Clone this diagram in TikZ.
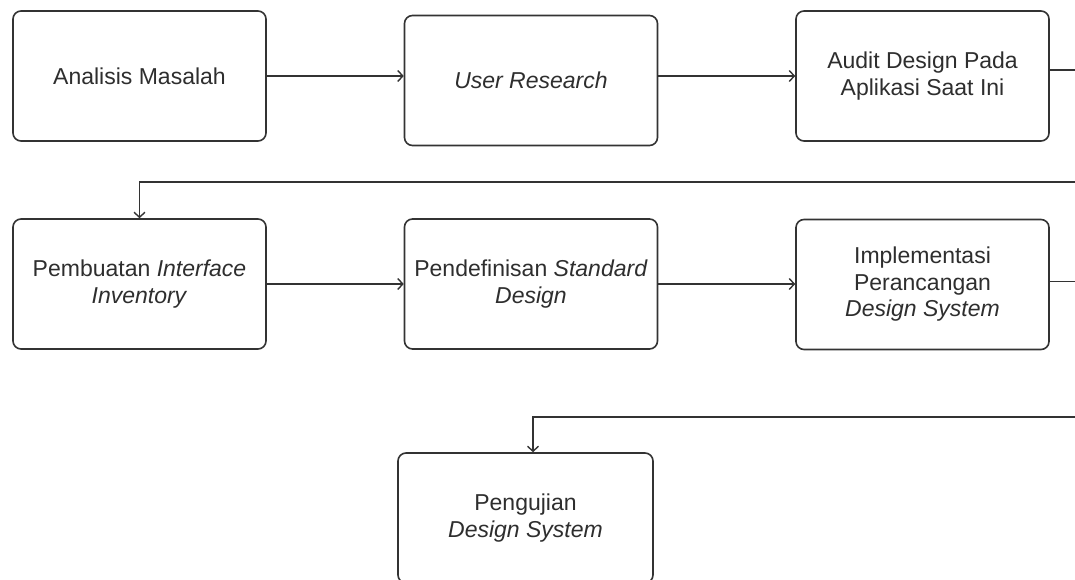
\documentclass[tikz,border=0pt]{standalone}
\usepackage{fontspec}
\setmainfont{Liberation Sans}
\usetikzlibrary{arrows.meta}
\definecolor{ink}{HTML}{333333}
\definecolor{txt}{HTML}{2E2E2E}
\begin{document}
\begin{tikzpicture}[x=1pt,y=1pt,
  stepbox/.style={draw=ink, line width=1.6pt, rounded corners=8pt, fill=white,
    minimum width=253pt, minimum height=130pt, align=center, text=txt,
    font=\fontsize{23}{26.5}\selectfont, inner sep=0pt},
  conn/.style={draw=ink, line width=1.6pt, -{Straight Barb[length=5pt,width=11pt,line width=1.4pt]}},
  plain/.style={draw=ink, line width=1.6pt}]
\useasboundingbox (0,0) rectangle (1075,-580);
\clip (0,0) rectangle (1075,-580);
\fill[white] (0,0) rectangle (1075,-580);
\node[stepbox] (b1) at (139.5,-76) {Analisis Masalah};
\node[stepbox] (b2) at (531,-80.5) {\itshape User Research};
\node[stepbox] (b3) at (922.5,-76) {Audit Design Pada\\Aplikasi Saat Ini};
\node[stepbox] (b4) at (139.5,-284) {Pembuatan \textit{Interface}\\\textit{Inventory}};
\node[stepbox] (b5) at (531,-284) {Pendefinisan \textit{Standard}\\\textit{Design}};
\node[stepbox] (b6) at (922.5,-284.5) {Implementasi\\Perancangan\\\textit{Design System}};
\node[stepbox, minimum width=255pt] (b7) at (525.5,-518) {Pengujian\\\textit{Design System}};
\coordinate (r1) at (1100,-182);
\coordinate (r2) at (1100,-417);
\coordinate (t7) at ([xshift=7.5pt]b7.north);
\draw[conn] (b1.east) -- (b1.east -| b2.west);
\draw[conn] (b2.east |- b3.west) -- (b3.west);
\draw[conn] ([yshift=6pt]b3.east) -| (r1) -| (b4.north);
\draw[conn] (b4.east) -- (b4.east -| b5.west);
\draw[conn] (b5.east) -- (b5.east -| b6.west);
\draw[conn] ([yshift=3pt]b6.east) -| (r2) -| (t7);
\end{tikzpicture}
\end{document}
